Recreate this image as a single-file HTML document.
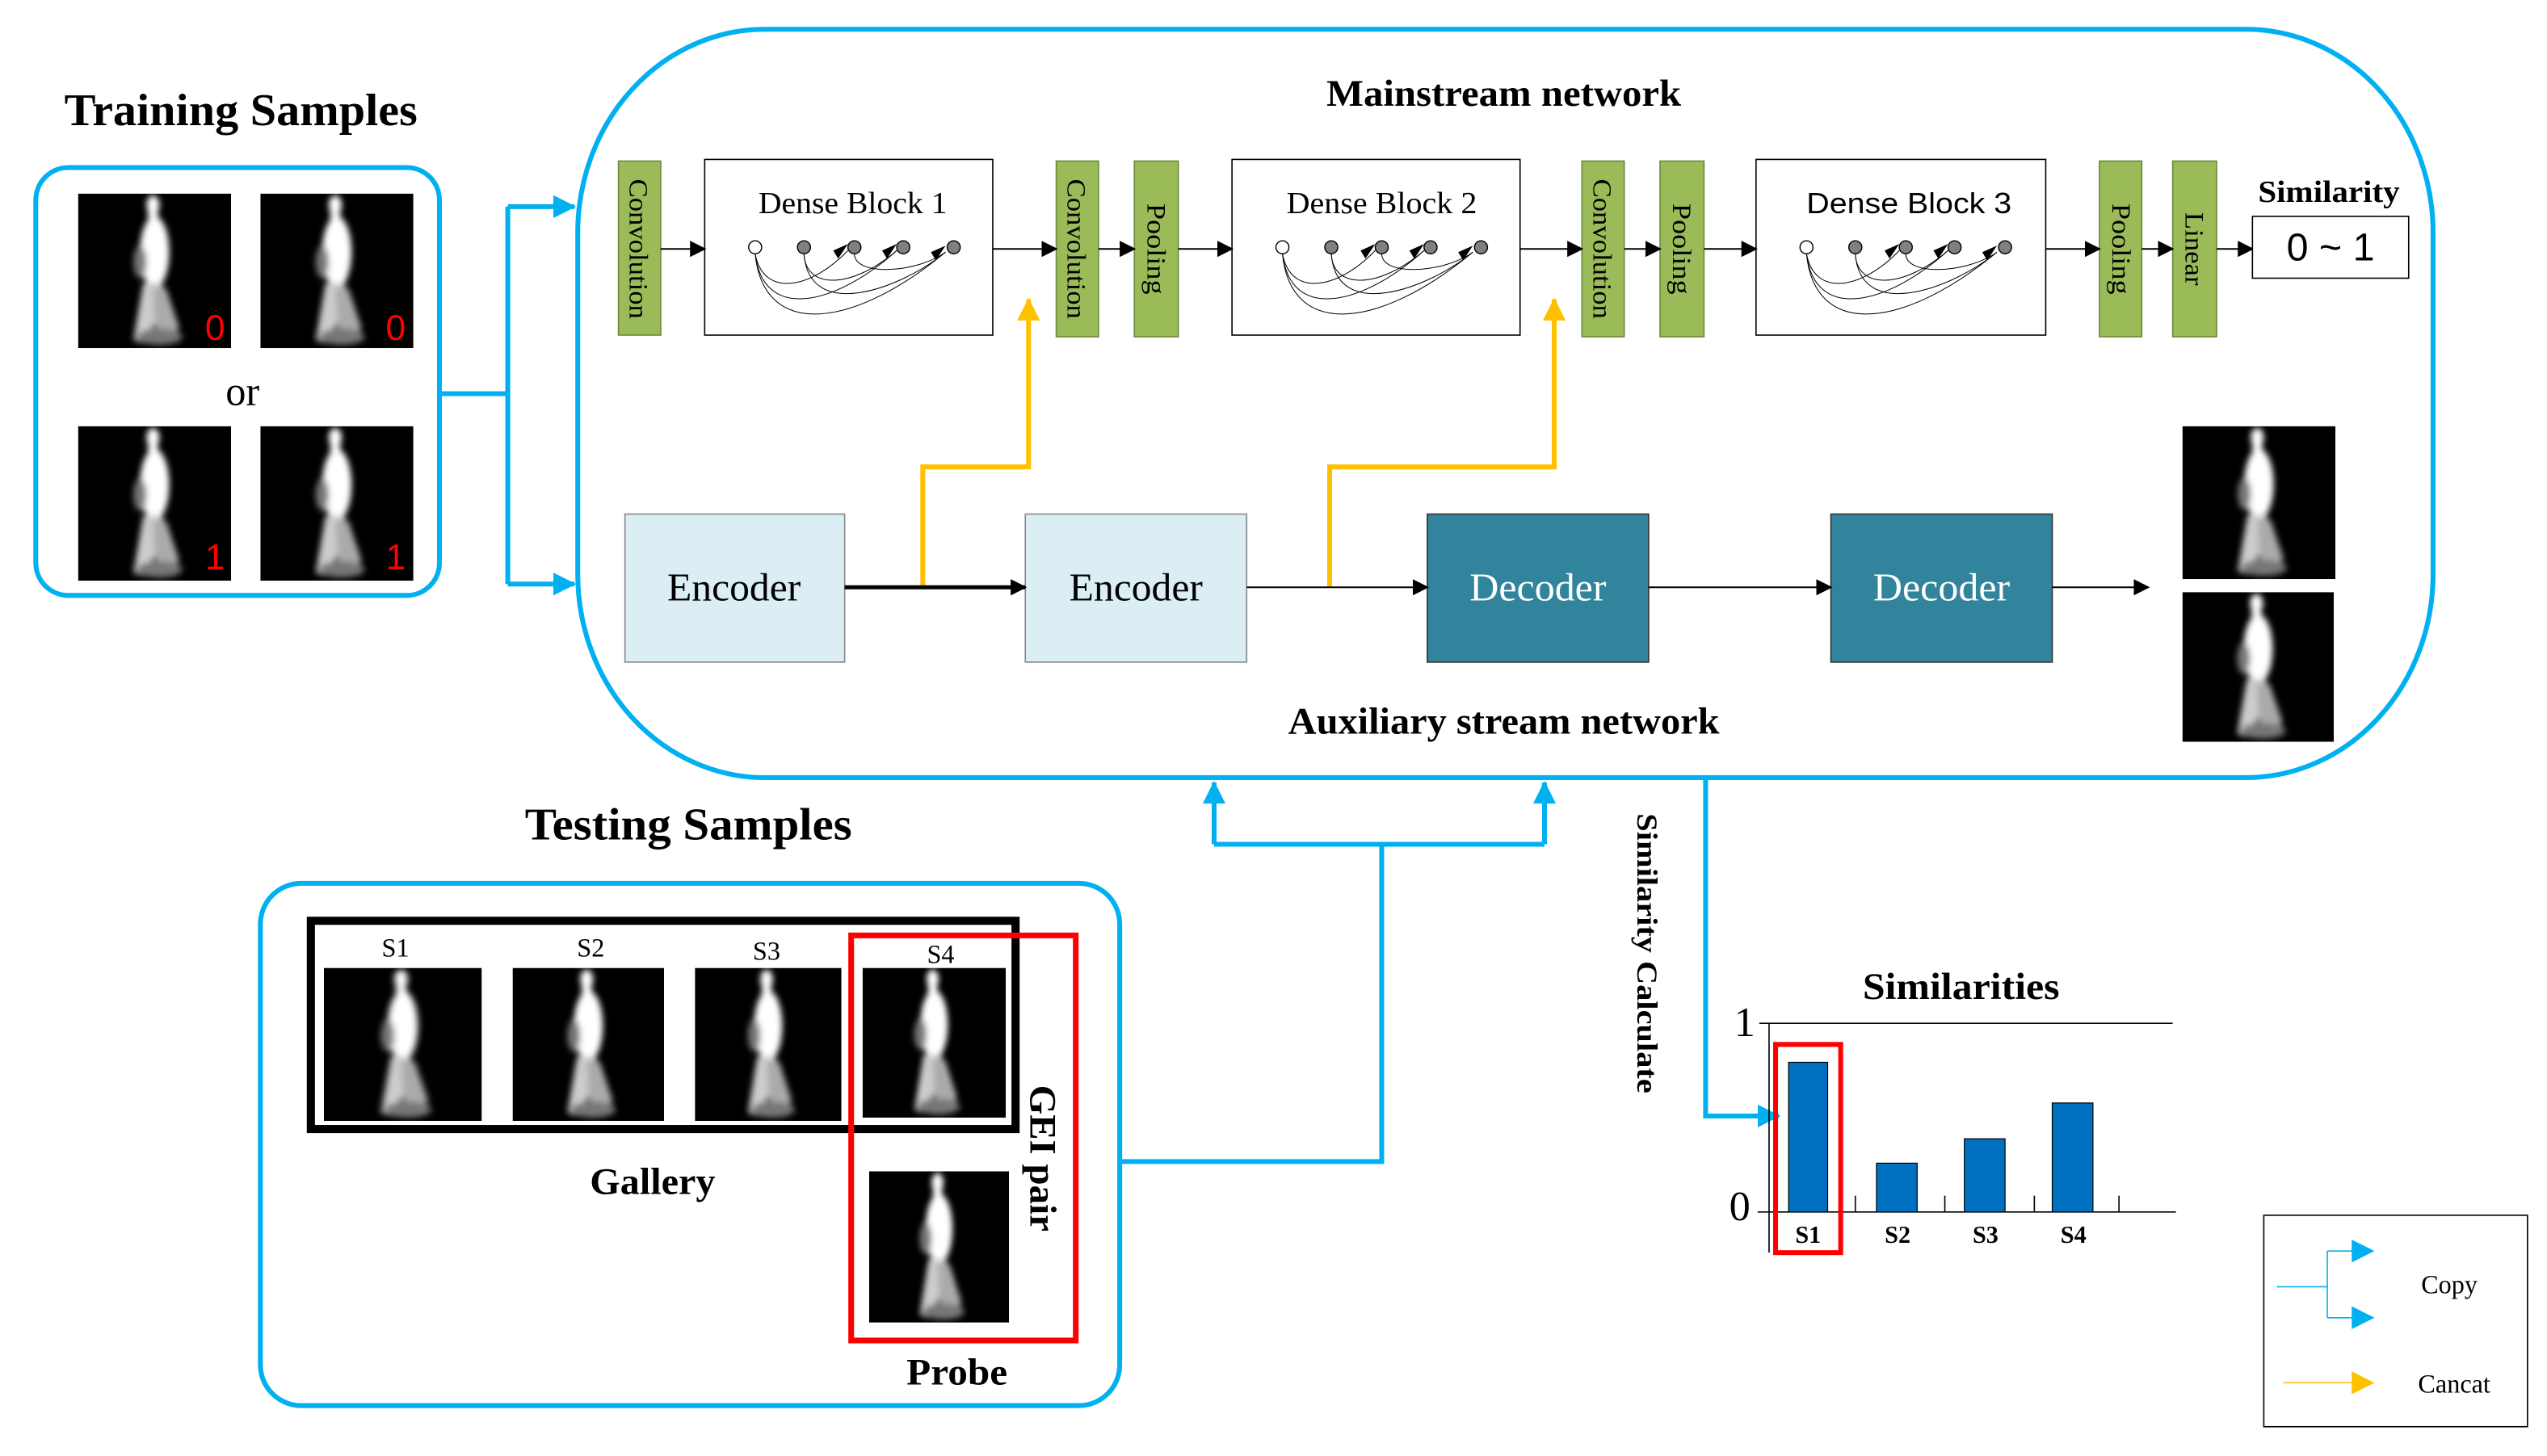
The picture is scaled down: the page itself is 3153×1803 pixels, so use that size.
<!DOCTYPE html>
<html><head><meta charset="utf-8"><style>
html,body{margin:0;padding:0;background:#fff;}
svg{display:block;}
text{font-family:"Liberation Serif",serif;}
.b{font-weight:bold;}
</style></head><body>
<svg width="3153" height="1803" viewBox="0 0 1565 895" preserveAspectRatio="none" xmlns="http://www.w3.org/2000/svg">
<defs>
<filter id="bl" x="-20%" y="-20%" width="140%" height="140%"><feGaussianBlur stdDeviation="2"/></filter>
<symbol id="gei" viewBox="0 0 94 95" preserveAspectRatio="none">
<rect width="94" height="95" fill="#000"/>
<g filter="url(#bl)">
<ellipse cx="46" cy="7" rx="4" ry="6" fill="#fff"/>
<rect x="43" y="10" width="6" height="8" fill="#fff"/>
<ellipse cx="47" cy="36" rx="9" ry="22" fill="#fff"/>
<ellipse cx="38" cy="42" rx="4" ry="10" fill="#777"/>
<path d="M40,55 L52,55 L50,75 L40,92 L34,90z" fill="#ccc"/>
<path d="M46,58 L54,58 L62,82 L58,92 L48,90z" fill="#aaa"/>
<ellipse cx="50" cy="88" rx="14" ry="5" fill="#777"/>
</g>
</symbol>
<marker id="ak" markerWidth="10" markerHeight="10" refX="9" refY="5" orient="auto" markerUnits="userSpaceOnUse"><path d="M0,0 L10,5 L0,10z" fill="#000"/></marker>
<marker id="ab" markerWidth="14" markerHeight="14" refX="13" refY="7" orient="auto" markerUnits="userSpaceOnUse"><path d="M0,0 L14,7 L0,14z" fill="#00b0f0"/></marker>
<marker id="ay" markerWidth="14" markerHeight="14" refX="13" refY="7" orient="auto" markerUnits="userSpaceOnUse"><path d="M0,0 L14,7 L0,14z" fill="#ffc000"/></marker>
<g id="dense">
<circle cx="31" cy="54" r="4" fill="#fff" stroke="#000" stroke-width="0.7"/>
<circle cx="61" cy="54" r="4" fill="#808080" stroke="#000" stroke-width="0.7"/>
<circle cx="92" cy="54" r="4" fill="#808080" stroke="#000" stroke-width="0.7"/>
<circle cx="122" cy="54" r="4" fill="#808080" stroke="#000" stroke-width="0.7"/>
<circle cx="153" cy="54" r="4" fill="#808080" stroke="#000" stroke-width="0.7"/>
<g fill="none" stroke="#000" stroke-width="0.5">
<path d="M31,58 C36,85 65,80 88,56"/>
<path d="M31,58 C36,100 80,90 118,56"/>
<path d="M31,58 C36,110 90,105 148,57"/>
<path d="M61,58 C62,80 90,80 118,56"/>
<path d="M61,58 C64,100 120,80 148,57"/>
<path d="M92,58 C92,72 130,70 148,57"/>
</g>
<path d="M79,56 l9,-4 l-6,9z" fill="#000"/>
<path d="M109,56 l9,-4 l-6,9z" fill="#000"/>
<path d="M139,57 l9,-4 l-6,9z" fill="#000"/>
</g>
</defs>

<!-- Training samples -->
<text x="148" y="77" font-size="28" class="b" text-anchor="middle" textLength="217" lengthAdjust="spacingAndGlyphs">Training Samples</text>
<rect x="22" y="103" width="248" height="263" rx="20" fill="none" stroke="#00b0f0" stroke-width="3"/>
<use href="#gei" x="48" y="119" width="94" height="95"/>
<use href="#gei" x="160" y="119" width="94" height="95"/>
<use href="#gei" x="48" y="262" width="94" height="95"/>
<use href="#gei" x="160" y="262" width="94" height="95"/>
<g fill="#f00" font-size="22"><text x="126" y="209" style="font-family:'Liberation Sans',sans-serif">0</text><text x="237" y="209" style="font-family:'Liberation Sans',sans-serif">0</text><text x="126" y="350" style="font-family:'Liberation Sans',sans-serif">1</text><text x="237" y="350" style="font-family:'Liberation Sans',sans-serif">1</text></g>
<text x="149" y="249" font-size="25" text-anchor="middle">or</text>
<g fill="none" stroke="#00b0f0" stroke-width="3">
<path d="M270,242 H312 M312,127 V359"/>
<path d="M312,127 H353" marker-end="url(#ab)"/>
<path d="M312,359 H353" marker-end="url(#ab)"/>
</g>

<!-- Main box -->
<rect x="355" y="18" width="1140" height="460" rx="115" ry="125" fill="none" stroke="#00b0f0" stroke-width="3"/>
<text x="924" y="65" font-size="23" class="b" text-anchor="middle" textLength="218" lengthAdjust="spacingAndGlyphs">Mainstream network</text>

<g fill="#9bbb59" stroke="#6b8a3a" stroke-width="0.8">
<rect x="380" y="99" width="26" height="107"/>
<rect x="649" y="99" width="26" height="108"/>
<rect x="697" y="99" width="27" height="108"/>
<rect x="972" y="99" width="26" height="108"/>
<rect x="1020" y="99" width="27" height="108"/>
<rect x="1290" y="99" width="26" height="108"/>
<rect x="1335" y="99" width="27" height="108"/>
</g>
<g font-size="16">
<text transform="translate(387,153) rotate(90)" text-anchor="middle" textLength="86" lengthAdjust="spacingAndGlyphs">Convolution</text>
<text transform="translate(656,153) rotate(90)" text-anchor="middle" textLength="86" lengthAdjust="spacingAndGlyphs">Convolution</text>
<text transform="translate(705,153) rotate(90)" text-anchor="middle" textLength="56" lengthAdjust="spacingAndGlyphs">Pooling</text>
<text transform="translate(979,153) rotate(90)" text-anchor="middle" textLength="86" lengthAdjust="spacingAndGlyphs">Convolution</text>
<text transform="translate(1028,153) rotate(90)" text-anchor="middle" textLength="56" lengthAdjust="spacingAndGlyphs">Pooling</text>
<text transform="translate(1298,153) rotate(90)" text-anchor="middle" textLength="56" lengthAdjust="spacingAndGlyphs">Pooling</text>
<text transform="translate(1343,153) rotate(90)" text-anchor="middle" textLength="45" lengthAdjust="spacingAndGlyphs">Linear</text>
</g>
<g fill="#fff" stroke="#000" stroke-width="0.8">
<rect x="433" y="98" width="177" height="108"/>
<rect x="757" y="98" width="177" height="108"/>
<rect x="1079" y="98" width="178" height="108"/>
</g>
<text x="524" y="131" font-size="19" text-anchor="middle" textLength="116" lengthAdjust="spacingAndGlyphs">Dense Block 1</text>
<text x="849" y="131" font-size="19" text-anchor="middle" textLength="117" lengthAdjust="spacingAndGlyphs">Dense Block 2</text>
<text x="1173" y="131" font-size="18" text-anchor="middle" style="font-family:'Liberation Sans',sans-serif" textLength="126" lengthAdjust="spacingAndGlyphs">Dense Block 3</text>
<use href="#dense" x="433" y="98"/>
<use href="#dense" x="757" y="98"/>
<use href="#dense" x="1079" y="98"/>

<g stroke="#000" stroke-width="1" fill="none">
<path d="M406,153 H433" marker-end="url(#ak)"/>
<path d="M610,153 H649" marker-end="url(#ak)"/>
<path d="M675,153 H697" marker-end="url(#ak)"/>
<path d="M724,153 H757" marker-end="url(#ak)"/>
<path d="M934,153 H972" marker-end="url(#ak)"/>
<path d="M998,153 H1020" marker-end="url(#ak)"/>
<path d="M1047,153 H1079" marker-end="url(#ak)"/>
<path d="M1257,153 H1290" marker-end="url(#ak)"/>
<path d="M1316,153 H1335" marker-end="url(#ak)"/>
<path d="M1362,153 H1384" marker-end="url(#ak)"/>
</g>
<text x="1431" y="124" font-size="19" class="b" text-anchor="middle" textLength="87" lengthAdjust="spacingAndGlyphs">Similarity</text>
<rect x="1384" y="133" width="96" height="38" fill="#fff" stroke="#000" stroke-width="0.8"/>
<text x="1432" y="160" font-size="24" text-anchor="middle" style="font-family:'Liberation Sans',sans-serif">0 ~ 1</text>

<!-- Auxiliary -->
<g fill="none" stroke="#ffc000" stroke-width="3">
<path d="M567,361 V287 H632 V184" marker-end="url(#ay)"/>
<path d="M817,361 V287 H955 V184" marker-end="url(#ay)"/>
</g>
<rect x="384" y="316" width="135" height="91" fill="#dbeef4" stroke="#888" stroke-width="0.8"/>
<rect x="630" y="316" width="136" height="91" fill="#dbeef4" stroke="#888" stroke-width="0.8"/>
<rect x="877" y="316" width="136" height="91" fill="#31849b" stroke="#333" stroke-width="0.8"/>
<rect x="1125" y="316" width="136" height="91" fill="#31849b" stroke="#333" stroke-width="0.8"/>
<g font-size="24" text-anchor="middle">
<text x="451" y="369" textLength="82" lengthAdjust="spacingAndGlyphs">Encoder</text>
<text x="698" y="369" textLength="82" lengthAdjust="spacingAndGlyphs">Encoder</text>
<text x="945" y="369" fill="#fff" textLength="84" lengthAdjust="spacingAndGlyphs">Decoder</text>
<text x="1193" y="369" fill="#fff" textLength="84" lengthAdjust="spacingAndGlyphs">Decoder</text>
</g>
<path d="M519,361 H630" stroke="#000" stroke-width="2.5" marker-end="url(#ak)"/>
<g stroke="#000" stroke-width="1">
<path d="M766,361 H877" marker-end="url(#ak)"/>
<path d="M1013,361 H1125" marker-end="url(#ak)"/>
<path d="M1261,361 H1320" marker-end="url(#ak)"/>
</g>
<use href="#gei" x="1341" y="262" width="94" height="94"/>
<use href="#gei" x="1341" y="364" width="93" height="92"/>
<text x="924" y="451" font-size="23" class="b" text-anchor="middle" textLength="265" lengthAdjust="spacingAndGlyphs">Auxiliary stream network</text>

<!-- connectors from testing -->
<g fill="none" stroke="#00b0f0" stroke-width="3">
<path d="M688,714 H849 V519 M746,519 H949"/>
<path d="M746,519 V481" marker-end="url(#ab)"/>
<path d="M949,519 V481" marker-end="url(#ab)"/>
<path d="M1048,478 V686 H1093" marker-end="url(#ab)"/>
</g>
<text transform="translate(1006,586) rotate(90)" font-size="18" class="b" text-anchor="middle" textLength="172" lengthAdjust="spacingAndGlyphs">Similarity Calculate</text>

<!-- Testing samples -->
<text x="423" y="516" font-size="28" class="b" text-anchor="middle" textLength="201" lengthAdjust="spacingAndGlyphs">Testing Samples</text>
<rect x="160" y="543" width="528" height="321" rx="25" fill="none" stroke="#00b0f0" stroke-width="3"/>
<rect x="191" y="566" width="433" height="128" fill="none" stroke="#000" stroke-width="5"/>
<use href="#gei" x="199" y="595" width="97" height="94"/>
<use href="#gei" x="315" y="595" width="93" height="94"/>
<use href="#gei" x="427" y="595" width="90" height="94"/>
<use href="#gei" x="530" y="595" width="88" height="92"/>
<use href="#gei" x="534" y="720" width="86" height="93"/>
<g font-size="16" text-anchor="middle">
<text x="243" y="588">S1</text><text x="363" y="588">S2</text><text x="471" y="590">S3</text><text x="578" y="592">S4</text>
</g>
<rect x="523" y="575" width="138" height="249" fill="none" stroke="#f00" stroke-width="3.5"/>
<text transform="translate(633,712) rotate(90)" font-size="23" class="b" text-anchor="middle" textLength="90" lengthAdjust="spacingAndGlyphs">GEI pair</text>
<text x="401" y="734" font-size="23" class="b" text-anchor="middle" textLength="77" lengthAdjust="spacingAndGlyphs">Gallery</text>
<text x="588" y="851" font-size="23" class="b" text-anchor="middle" textLength="62" lengthAdjust="spacingAndGlyphs">Probe</text>

<!-- Chart -->
<text x="1205" y="614" font-size="23" class="b" text-anchor="middle" textLength="121" lengthAdjust="spacingAndGlyphs">Similarities</text>
<g stroke="#000" stroke-width="0.8">
<path d="M1081,629 H1335"/>
<path d="M1080,745 H1337"/>
<path d="M1087,629 V770"/>
<path d="M1140,735 V745 M1195,735 V745 M1250,735 V745 M1302,735 V745"/>
</g>
<text x="1072" y="637" font-size="26" text-anchor="middle">1</text>
<text x="1069" y="750" font-size="26" text-anchor="middle">0</text>
<g fill="#0070c0" stroke="#000" stroke-width="0.6">
<rect x="1099" y="653" width="24" height="92"/>
<rect x="1153" y="715" width="25" height="30"/>
<rect x="1207" y="700" width="25" height="45"/>
<rect x="1261" y="678" width="25" height="67"/>
</g>
<g font-size="15" class="b" text-anchor="middle">
<text x="1111" y="764">S1</text><text x="1166" y="764">S2</text><text x="1220" y="764">S3</text><text x="1274" y="764">S4</text>
</g>
<rect x="1091" y="642" width="40" height="128" fill="none" stroke="#f00" stroke-width="3"/>

<!-- Legend -->
<rect x="1391" y="747" width="162" height="130" fill="#fff" stroke="#000" stroke-width="0.8"/>
<g fill="none" stroke="#00b0f0" stroke-width="0.8">
<path d="M1399,791 H1430 M1430,769 V810"/>
<path d="M1430,769 H1458" marker-end="url(#ab)"/>
<path d="M1430,810 H1458" marker-end="url(#ab)"/>
</g>
<path d="M1403,850 H1458" stroke="#ffc000" stroke-width="0.8" marker-end="url(#ay)"/>
<text x="1505" y="795" font-size="16" text-anchor="middle">Copy</text>
<text x="1508" y="856" font-size="16" text-anchor="middle">Cancat</text>
</svg>
</body></html>
